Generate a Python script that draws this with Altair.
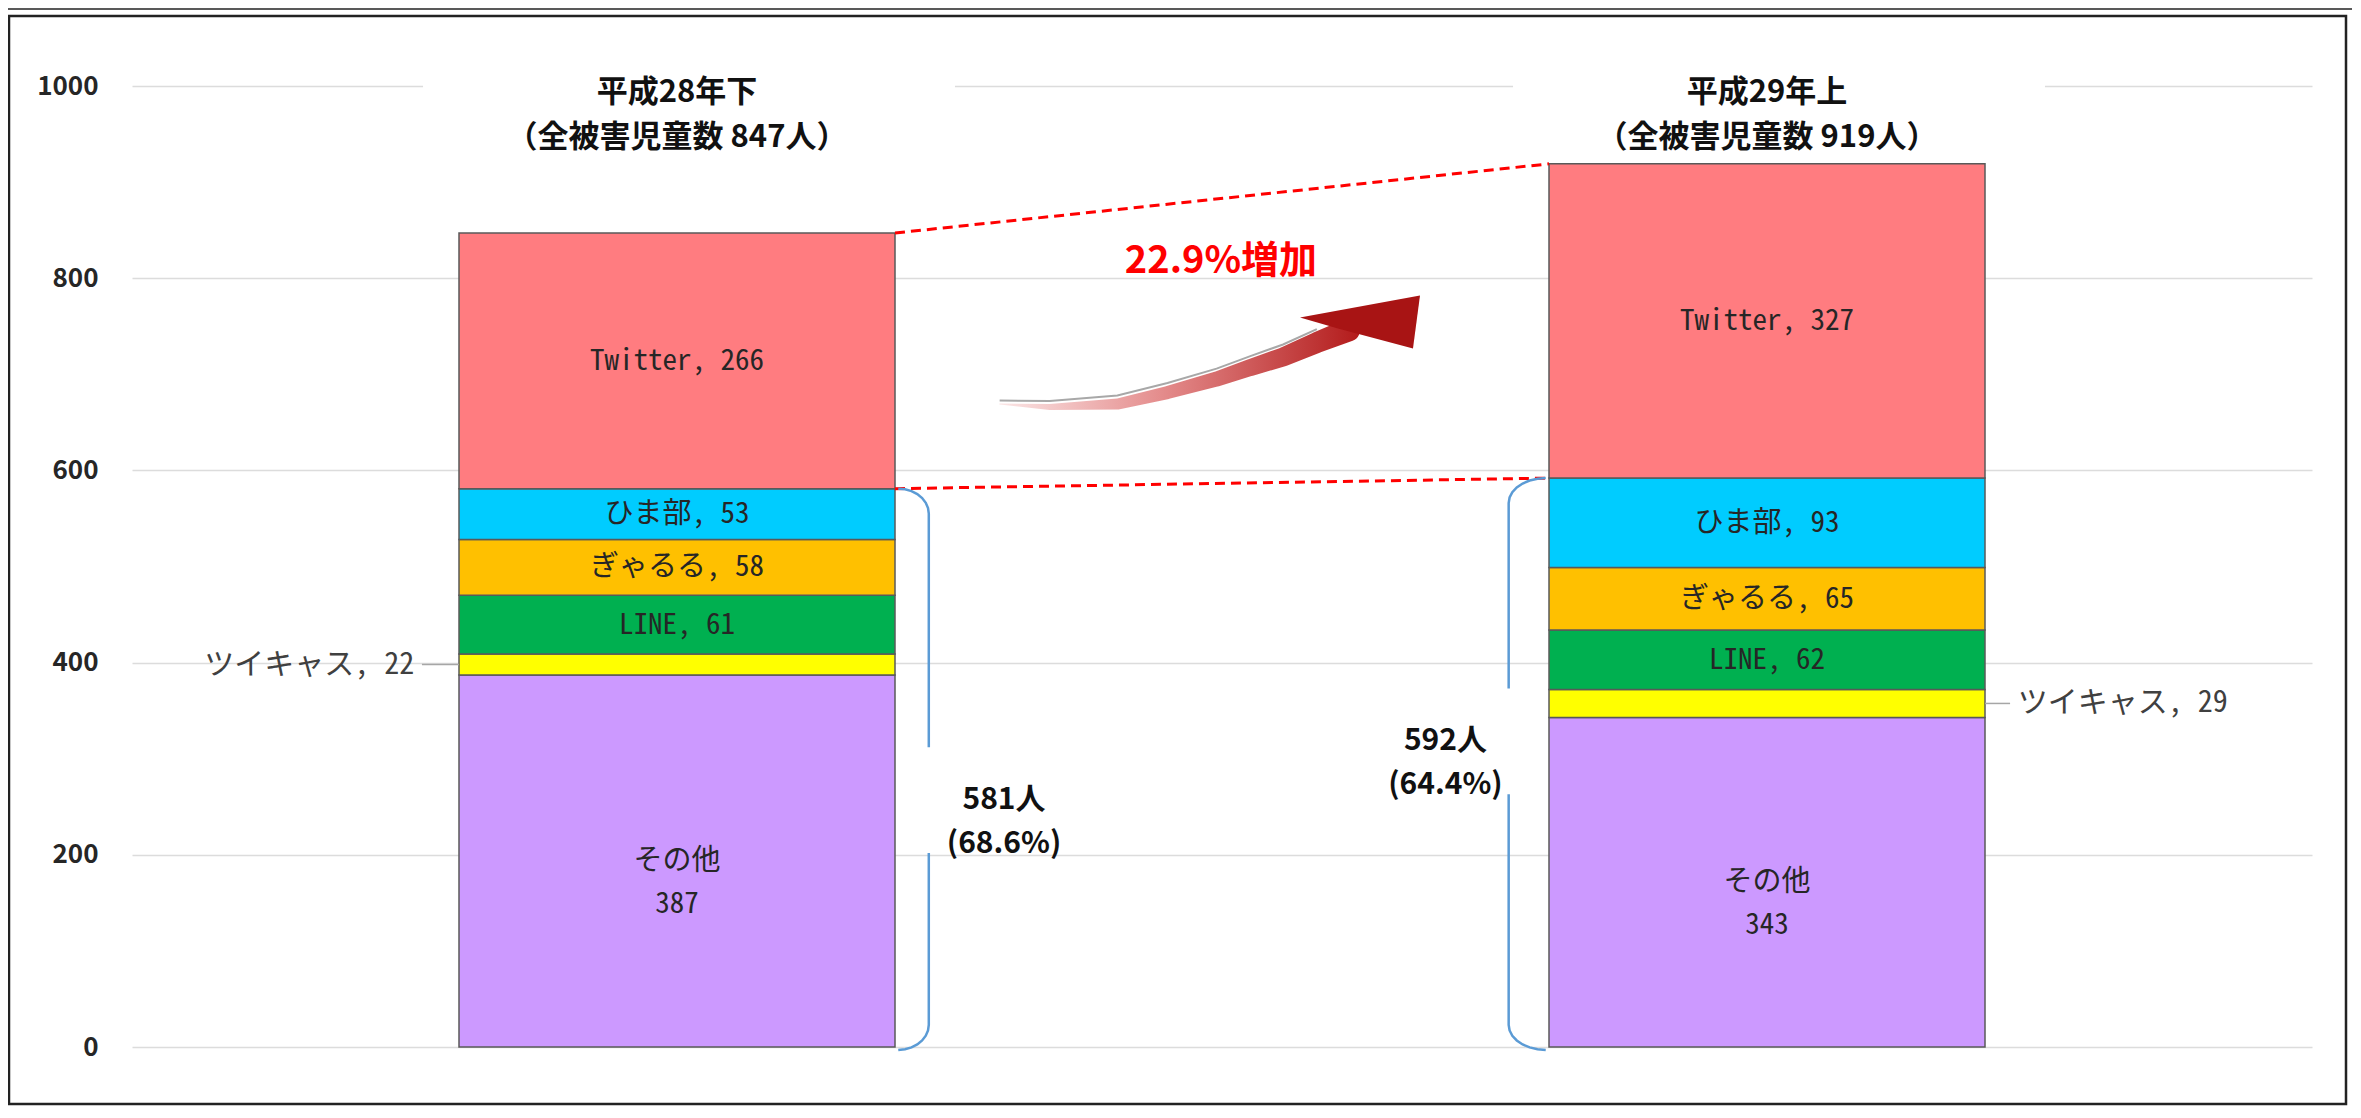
import altair as alt
import numpy as np
import pandas as pd

# ---------------- data ----------------
periods = ["平成28年下", "平成29年上"]
totals = [847, 919]
platforms = ["その他", "ツイキャス", "LINE", "ぎゃるる", "ひま部", "Twitter"]
values_h28 = [387, 22, 61, 58, 53, 266]
values_h29 = [343, 29, 62, 65, 93, 327]
platform_colors = ["#CC99FF", "#FFFF00", "#00B050", "#FFC000", "#00CCFF", "#FF7C80"]
subtotals = [581, 592]
subtotal_shares = ["68.6%", "64.4%"]
increase_text = "22.9%増加"
y_ticks = [0, 200, 400, 600, 800, 1000]

# arrow path (data units)
arrow_x = [0.796, 0.842, 0.904, 0.950, 0.995, 1.026, 1.056, 1.087, 1.116]
arrow_y = [669, 666, 669, 681, 695, 707, 718, 733, 746]
arrow_w = [1, 6, 11, 13, 15, 17, 19, 21, 23]
head_x = [1.1266]
head_y = [754]

FONT = "Noto Sans CJK JP"
LFONT = "Noto Sans Mono CJK JP, Noto Sans CJK JP"
W, H = 2180, 961
HALF = 0.2
PX_PER_Y = H / 1000.0

# ---------------- tables ----------------
rows = []
for i, vals in enumerate([values_h28, values_h29]):
    base = 0
    for p, v in zip(platforms, vals):
        lab = f"{p}\n{v}" if p == "その他" else f"{p}, {v}"
        rows.append(dict(period=periods[i], platform=p, value=v, y0=base, y1=base + v,
                         ymid=base + v / 2, x0=i + 0.5 - HALF, x1=i + 0.5 + HALF,
                         xc=i + 0.5, label=lab, inside=(p != "ツイキャス")))
        base += v
bars = pd.DataFrame(rows)
inside = bars[bars["inside"]].copy()
tw = bars[~bars["inside"]].copy().reset_index(drop=True)
tw["lx"] = [0.5 - HALF - 0.041, 1.5 + HALF + 0.03]
lead = pd.DataFrame(dict(
    g=[0, 0, 1, 1],
    x=[0.5 - HALF - 0.034, 0.5 - HALF, 1.5 + HALF, 1.5 + HALF + 0.023],
    y=[tw.loc[0, "ymid"]] * 2 + [tw.loc[1, "ymid"]] * 2))

titles = pd.DataFrame(dict(
    xc=[0.5, 1.5],
    label=[f"{p}\n（全被害児童数 {t}人）" for p, t in zip(periods, totals)],
    y=[993, 993]))
title_boxes = pd.DataFrame(dict(x0=[0.267, 1.267], x1=[0.755, 1.755], y0=[958, 958], y1=[1050, 1050]))

dash = pd.DataFrame(dict(
    g=["top", "top", "mid", "mid"],
    x=[0.5 + HALF, 1.5 - HALF, 0.5 + HALF, 1.5 - HALF],
    y=[totals[0], totals[1], subtotals[0], subtotals[1]]))

sub_text = pd.DataFrame(dict(
    x=[0.80, 1.205], y=[257, 318],
    label=[f"{s}人\n({r})" for s, r in zip(subtotals, subtotal_shares)]))


def brace(gid, x_edge, x_line, y_top, gap_mid, ry=26, gap=55):
    pts = []
    th = np.linspace(0, np.pi / 2, 8)
    for t in th:
        pts.append((gid + "a", x_edge + (x_line - x_edge) * np.sin(t), y_top - ry + ry * np.cos(t)))
    pts.append((gid + "a", x_line, gap_mid + gap))
    pts.append((gid + "b", x_line, gap_mid - gap))
    for t in th[::-1]:
        pts.append((gid + "b", x_edge + (x_line - x_edge) * np.sin(t), ry - ry * np.cos(t) - 3))
    return pts


bpts = brace("L", 0.5 + HALF + 0.003, 0.731, subtotals[0], 257) + \
       brace("R", 1.5 - HALF - 0.003, 1.263, subtotals[1], 318)
braces = pd.DataFrame(bpts, columns=["g", "x", "y"])
braces["o"] = range(len(braces))

shaft = pd.DataFrame(dict(x=arrow_x, y=arrow_y, w=arrow_w))
shadow = pd.DataFrame(dict(x=arrow_x[:-1],
                           y=[yy + (ww / 2 + 3) / PX_PER_Y for yy, ww in zip(arrow_y[:-1], arrow_w[:-1])]))
head = pd.DataFrame(dict(x=head_x, y=head_y))
inc = pd.DataFrame(dict(x=[0.999], y=[817], label=[increase_text]))
one = pd.DataFrame(dict(k=[0]))

# arrow head outline (unit square, pointing up-right)
HEAD_PATH = "M 1 -0.45 L -1 -0.083 L -0.367 0.1 L 0.883 0.433 Z"

# ---------------- scales ----------------
xs = alt.Scale(domain=[0, 2], nice=False, zero=False)
ys = alt.Scale(domain=[0, 1000], nice=False, zero=False)


def X(f):
    return alt.X(f, type="quantitative", scale=xs, axis=None)


def Y(f):
    return alt.Y(f, type="quantitative", scale=ys, axis=None)


# ---------------- layers ----------------
frame = alt.Chart(one).mark_rect(fill="white", fillOpacity=0, stroke="#222222", strokeWidth=2.5).encode(
    x=alt.value(-123), x2=alt.value(2214), y=alt.value(-70), y2=alt.value(1018))
topline = alt.Chart(one).mark_rule(color="#222222", strokeWidth=1.5).encode(
    x=alt.value(-124), x2=alt.value(2220), y=alt.value(-77))

bar_layer = alt.Chart(bars).mark_rect(stroke="#595959", strokeWidth=1.5).encode(
    x=X("x0"), x2=alt.X2("x1"),
    y=alt.Y("y0", type="quantitative", scale=ys,
            axis=alt.Axis(values=y_ticks, format="d", grid=True, gridColor="#DCDCDC", gridWidth=1.5,
                          domain=False, ticks=False, title=None, labelFont=FONT,
                          labelFontSize=26, labelColor="#262626", labelPadding=34,
                          labelFontWeight="bold")),
    y2=alt.Y2("y1"),
    color=alt.Color("platform:N", scale=alt.Scale(domain=platforms, range=platform_colors), legend=None))

box_layer = alt.Chart(title_boxes).mark_rect(fill="white").encode(
    x=X("x0"), x2=alt.X2("x1"), y=Y("y0"), y2=alt.Y2("y1"))

title_layer = alt.Chart(titles).mark_text(font=FONT, fontSize=31, fontWeight="bold", color="#111111",
                                          lineBreak="\n", lineHeight=45, baseline="middle").encode(
    x=X("xc"), y=Y("y"), text="label:N")

label_layer = alt.Chart(inside).mark_text(font=LFONT, fontSize=29, color="#262626", lineBreak="\n",
                                          lineHeight=43, baseline="middle").encode(
    x=X("xc"), y=Y("ymid"), text="label:N")

tw_left = alt.Chart(tw.iloc[[0]]).mark_text(font=LFONT, fontSize=30, color="#404040", align="right",
                                            baseline="middle").encode(x=X("lx"), y=Y("ymid"), text="label:N")
tw_right = alt.Chart(tw.iloc[[1]]).mark_text(font=LFONT, fontSize=30, color="#404040", align="left",
                                             baseline="middle").encode(x=X("lx"), y=Y("ymid"), text="label:N")
lead_layer = alt.Chart(lead).mark_line(color="#A6A6A6", strokeWidth=1.5).encode(
    x=X("x"), y=Y("y"), detail="g:N")

dash_layer = alt.Chart(dash).mark_line(color="#FF0000", strokeWidth=3, strokeDash=[10, 6]).encode(
    x=X("x"), y=Y("y"), detail="g:N")

brace_layer = alt.Chart(braces).mark_line(color="#5B9BD5", strokeWidth=2.5).encode(
    x=X("x"), y=Y("y"), detail="g:N", order="o:Q")

sub_layer = alt.Chart(sub_text).mark_text(font=FONT, fontSize=30, fontWeight="bold", color="#111111",
                                          lineBreak="\n", lineHeight=44, baseline="middle").encode(
    x=X("x"), y=Y("y"), text="label:N")

shadow_layer = alt.Chart(shadow).mark_line(color="#A8A8A8", strokeWidth=2).encode(x=X("x"), y=Y("y"))

grad = alt.LinearGradient(gradient="linear", x1=0, y1=0, x2=1, y2=0,
                          stops=[alt.GradientStop(offset=0, color="#FBE6E6"),
                                 alt.GradientStop(offset=0.45, color="#E48C8C"),
                                 alt.GradientStop(offset=1, color="#B31B1B")])
shaft_layer = alt.Chart(shaft).mark_trail(color=grad).encode(
    x=X("x"), y=Y("y"), size=alt.Size("w:Q", scale=None, legend=None))
head_layer = alt.Chart(head).mark_point(shape=HEAD_PATH, filled=True, size=14400, color="#A81414",
                                        opacity=1, strokeWidth=0).encode(x=X("x"), y=Y("y"))

inc_layer = alt.Chart(inc).mark_text(font=FONT, fontSize=38, fontWeight="bold", color="#FF0000",
                                     baseline="middle").encode(x=X("x"), y=Y("y"), text="label:N")

chart = alt.layer(
    bar_layer, box_layer, title_layer, label_layer, lead_layer, tw_left, tw_right,
    dash_layer, brace_layer, sub_layer, shadow_layer, shaft_layer, head_layer, inc_layer,
    frame, topline
).resolve_scale(size="independent").resolve_axis(y="independent").properties(
    width=W, height=H,
    autosize=alt.AutoSizeParams(type="none"),
    padding={"left": 124, "top": 78, "right": 40, "bottom": 60},
    background="white"
).configure_view(stroke=None)

chart.save("out.html", embed_options={"renderer": "svg", "actions": False})
